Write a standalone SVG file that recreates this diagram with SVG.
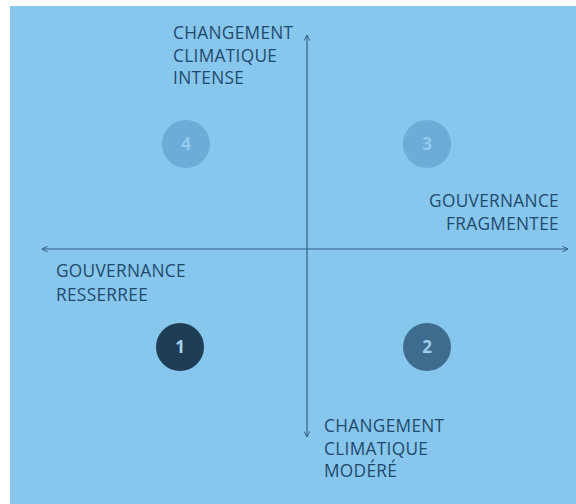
<svg xmlns="http://www.w3.org/2000/svg" width="576" height="504" viewBox="0 0 576 504">
<style>
.lbl{font-family:"Open Sans","Noto Sans",sans-serif;font-size:17.3px;letter-spacing:0.3px;fill:#1e4a6c}
.num{font-family:"Open Sans","Noto Sans",sans-serif;font-size:17px;font-weight:bold;text-anchor:middle}
.axis{stroke:#2f5f86;stroke-width:1.2;fill:none}
</style>
<defs>
<marker id="ah" viewBox="0 0 10 10" refX="9" refY="5" markerWidth="7" markerHeight="7" orient="auto-start-reverse" markerUnits="userSpaceOnUse">
<path d="M1,1 L9,5 L1,9" fill="none" stroke="#2f5f86" stroke-width="1.4"/>
</marker>
</defs>
<rect x="10" y="6" width="566" height="498" fill="#88c7ed"/>
<g id="connectors">
<line class="axis" x1="307" y1="437" x2="307" y2="35" marker-start="url(#ah)" marker-end="url(#ah)"/>
<line class="axis" x1="42" y1="249" x2="568" y2="249" marker-start="url(#ah)" marker-end="url(#ah)"/>
</g>
<g id="label-intense">
<text class="lbl" x="173" y="39">CHANGEMENT</text>
<text class="lbl" x="173" y="62">CLIMATIQUE</text>
<text class="lbl" x="173" y="84">INTENSE</text>
</g>
<g id="label-fragmentee">
<text class="lbl" x="559" y="207" text-anchor="end">GOUVERNANCE</text>
<text class="lbl" x="559" y="230" text-anchor="end">FRAGMENTEE</text>
</g>
<g id="label-resserree">
<text class="lbl" x="56" y="277">GOUVERNANCE</text>
<text class="lbl" x="56" y="301">RESSERREE</text>
</g>
<g id="label-modere">
<text class="lbl" x="324" y="432">CHANGEMENT</text>
<text class="lbl" x="324" y="455">CLIMATIQUE</text>
<text class="lbl" x="324" y="477">MODÉRÉ</text>
</g>
<g id="node-4">
<circle cx="186" cy="144" r="24" fill="#6badd7"/>
<text class="num" x="186" y="150" fill="#92cbee" font-weight="normal">4</text>
</g>
<g id="node-3">
<circle cx="427" cy="144" r="24" fill="#6badd7"/>
<text class="num" x="427" y="150" fill="#92cbee" font-weight="normal">3</text>
</g>
<g id="node-1">
<circle cx="180" cy="347" r="24" fill="#1f3d54"/>
<text class="num" x="180" y="353" fill="#a6d4f0">1</text>
</g>
<g id="node-2">
<circle cx="427" cy="347" r="24" fill="#3e6c8d"/>
<text class="num" x="427" y="353" fill="#9ccdee">2</text>
</g>
</svg>
